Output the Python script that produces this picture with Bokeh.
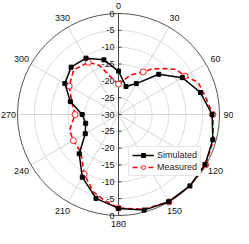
import numpy as np
from bokeh.plotting import figure
from bokeh.models import Range1d, ColumnDataSource, Legend, LegendItem
from bokeh.core.properties import value
from bokeh.embed import file_html
from bokeh.resources import INLINE

# ---------------- data ----------------
sim_angles = [0, 15, 30, 45, 60, 75, 90, 105, 120, 135, 150, 165, 180,
              195, 210, 225, 240, 255, 270, 285, 300, 315, 330, 345, 360]
sim_db = [-17.1, -21.4, -19.4, -13.1, -8.1, -4.8, -2.2, -1.0, -0.3, 0.0, -0.1, -0.6, -2.1,
          -4.2, -8.5, -13.5, -18.6, -19.9, -19.2, -15.2, -11.6, -10.1, -10.7, -13.2, -17.1]

meas_angles = [0, 17, 30, 36, 45, 52, 60, 68, 79, 90, 105, 120, 135, 150, 165, 180,
               190, 198, 210, 225, 240, 252, 270, 281, 293, 300, 315, 330, 339, 350, 360]
meas_db = [-21.0, -17.7, -15.4, -13.3, -10.7, -8.3, -7.2, -4.5, -3.6, -2.0, -0.8, -0.1, 0.0, 0.0, -0.9, -2.2,
           -4.3, -5.8, -9.6, -14.2, -14.5, -14.7, -17.1, -16.1, -14.5, -13.1, -11.2, -12.1, -14.4, -19.1, -21.0]

meas_marker_angles = [0, 30, 60, 90, 120, 150, 180, 210, 240, 270, 300, 330]
meas_marker_db = [-21.0, -15.4, -7.2, -2.0, -0.1, 0.0, -2.2, -9.6, -14.5, -17.1, -13.1, -12.1]

angle_ticks = [0, 30, 60, 90, 120, 150, 180, 210, 240, 270, 300, 330]
angle_labels = ["0", "30", "60", "90", "120", "150", "180", "210", "240", "270", "300", "330"]
radial_ticks = [0, -5, -10, -15, -20, -25, -30]
radial_labels = ["0", "-5", "-10", "-15", "-20", "-25", "-30"]
r_min, r_max = -30, 0

# ---------------- layout ----------------
W, H = 233, 228
CX, CY = 118, 114          # centre in pixels from left / top of the figure
R = 101                    # outer radius in pixels
FONT = "Liberation Sans"


def rad(db):
    return (np.asarray(db, dtype=float) - r_min) / (r_max - r_min) * R


def to_xy(ang, db):
    r = rad(db)
    th = np.radians(np.asarray(ang, dtype=float))
    return r * np.sin(th), r * np.cos(th)


p = figure(width=W, height=H, output_backend="svg", toolbar_location=None,
           x_axis_type=None, y_axis_type=None, min_border=0,
           x_range=Range1d(-CX, W - CX), y_range=Range1d(-(H - CY), CY))
p.outline_line_color = None
p.xgrid.visible = False
p.ygrid.visible = False
p.background_fill_color = "white"

# grid circles
inner = [t for t in radial_ticks if t not in (r_min, r_max)]
p.circle(x=[0] * len(inner), y=[0] * len(inner), radius=list(rad(inner)),
         fill_color=None, line_color="#d9dbea", line_width=1)

# spokes
sx, sy = to_xy(angle_ticks, [r_max] * len(angle_ticks))
p.segment(x0=[0] * len(angle_ticks), y0=[0] * len(angle_ticks), x1=list(sx), y1=list(sy),
          line_color="#d6d6d6", line_width=1)

# outer circle
p.circle(x=[0], y=[0], radius=[R], fill_color=None, line_color="#555555", line_width=1)

# vertical radial axis
p.segment(x0=[0], y0=[-R], x1=[0], y1=[R], line_color="#444444", line_width=1)
tick_r = list(rad(radial_ticks))
ty = tick_r + [-v for v in tick_r if v > 0]
p.segment(x0=[0] * len(ty), y0=ty, x1=[3] * len(ty), y1=ty, line_color="#444444", line_width=1)

# radial labels (upper and lower half)
lab_y = tick_r + [-v for v in tick_r if v > 0]
lab_t = radial_labels + [l for l, v in zip(radial_labels, tick_r) if v > 0]
p.text(x=[-4] * len(lab_y), y=lab_y, text=lab_t, text_align="right", text_baseline="middle",
       text_font=value(FONT), text_font_size="9px", text_color="#111111")

# angle labels
lr = []
for a in angle_ticks:
    if a in (0, 180):
        lr.append(R + 8)
    elif a in (90, 270):
        lr.append(R + 9)
    else:
        lr.append(R + 11)
lr = np.array(lr)
th = np.radians(angle_ticks)
p.text(x=list(lr * np.sin(th)), y=list(lr * np.cos(th)), text=angle_labels,
       text_align="center", text_baseline="middle",
       text_font=value(FONT), text_font_size="9px", text_color="#111111")

# data
smx, smy = to_xy(sim_angles, sim_db)
mx, my = to_xy(meas_angles, meas_db)
mmx, mmy = to_xy(meas_marker_angles, meas_marker_db)

l_meas = p.line(list(mx), list(my), line_color="#ff0000", line_width=1.6, line_dash="5 3")
s_meas = p.scatter(list(mmx), list(mmy), marker="circle", size=6, fill_color="white",
                   line_color="#ff2020", line_width=1)
l_sim = p.line(list(smx), list(smy), line_color="black", line_width=1.5)
s_sim = p.scatter(list(smx[:-1]), list(smy[:-1]), marker="square", size=4,
                  fill_color="black", line_color="black")

legend = Legend(items=[LegendItem(label="Simulated", renderers=[l_sim, s_sim]),
                       LegendItem(label="Measured", renderers=[l_meas, s_meas])],
                location=(128, 52))
legend.label_text_font = FONT
legend.label_text_font_size = "9px"
legend.label_text_color = "#222222"
legend.border_line_color = "#cccccc"
legend.border_line_width = 1
legend.background_fill_color = "white"
legend.background_fill_alpha = 1.0
legend.glyph_width = 22
legend.glyph_height = 10
legend.label_height = 10
legend.label_standoff = 3
legend.spacing = 2
legend.padding = 3
legend.margin = 0
p.add_layout(legend, "center")

open("out.html", "w").write(file_html(p, INLINE))
